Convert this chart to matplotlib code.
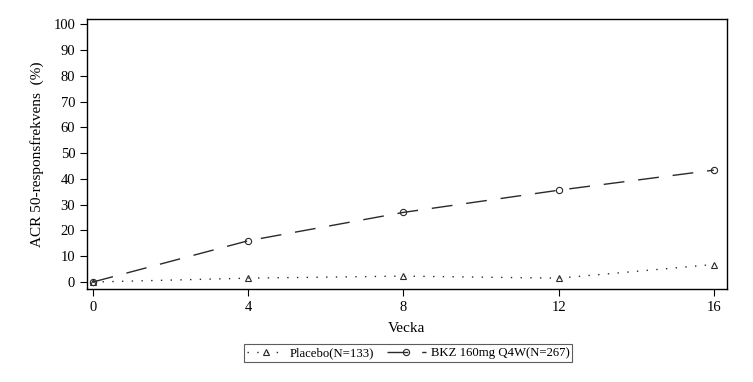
import matplotlib
matplotlib.use("Agg")
import matplotlib.pyplot as plt

weeks = [0, 4, 8, 12, 16]
placebo = [0.0, 1.5, 2.3, 1.5, 6.8]
bkz = [0.0, 16.0, 27.0, 35.6, 43.4]
xticks = [0, 4, 8, 12, 16]
yticks = list(range(0, 101, 10))

plt.rcParams['font.family'] = ['Liberation Serif', 'DejaVu Serif']

fig = plt.figure(figsize=(7.53, 3.82), dpi=100)
ax = fig.add_axes([87/753, 1-289/382, (727-87)/753, (289-19)/382])

ax.plot(weeks, placebo, linestyle=(0, (1, 6)), color='#2a2a2a', lw=1.0,
        marker='^', markersize=4.5, markerfacecolor='none', markeredgecolor='#2a2a2a',
        markeredgewidth=0.8, label='Placebo(N=133)')
ax.plot(weeks, bkz, linestyle=(0, (15, 10)), color='#2a2a2a', lw=1.0,
        marker='o', markersize=4.5, markerfacecolor='none', markeredgecolor='#2a2a2a',
        markeredgewidth=0.8, label='BKZ 160mg Q4W(N=267)')

ax.set_xlim(-0.15, 16.34)
ax.set_ylim(-2.7, 102)
ax.set_xticks(xticks)
ax.set_yticks(yticks)
ax.tick_params(labelsize=10.5, length=5, width=0.8, direction='out')
for s in ax.spines.values():
    s.set_linewidth(1.0)
ax.set_xlabel('Vecka', fontsize=11, labelpad=6)
ax.set_ylabel('ACR 50-responsfrekvens  (%)', fontsize=11, labelpad=7)

leg = fig.legend(loc='center', bbox_to_anchor=(408/753, 1-353/382), ncol=2,
                 fontsize=9.2, frameon=True, fancybox=False, edgecolor='#333333',
                 handlelength=3.0, columnspacing=1.0, borderpad=0.2, handletextpad=0.4)
leg.get_frame().set_linewidth(0.8)

fig.savefig('out.png', dpi=100)
